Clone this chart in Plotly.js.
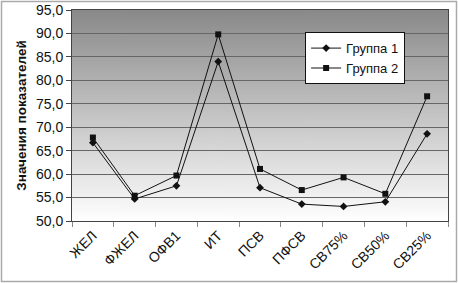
<!DOCTYPE html>
<html><head><meta charset="utf-8">
<script src="https://cdn.plot.ly/plotly-3.0.1.min.js"></script>
<style>html,body{margin:0;padding:0;background:#fff}#chart{width:458px;height:283px}</style>
</head><body><div id="chart"></div>
<script>
var categories = ["ЖЕЛ","ФЖЕЛ","ОФВ1","ИТ","ПСВ","ПФСВ","СВ75%","СВ50%","СВ25%"];
var group1 = [66.7, 54.7, 57.5, 84.0, 57.1, 53.6, 53.1, 54.1, 68.6];
var group2 = [67.8, 55.4, 59.7, 89.8, 61.1, 56.6, 59.3, 55.8, 76.6];
var seriesNames = ["Группа 1","Группа 2"];
var yTitle = "Значения показателей";

var cv = document.createElement('canvas');
cv.width = 4; cv.height = 256;
var ctx = cv.getContext('2d');
var g = ctx.createLinearGradient(0,0,0,256);
g.addColorStop(0,'#898989');
g.addColorStop(1,'#ffffff');
ctx.fillStyle = g; ctx.fillRect(0,0,4,256);
var bg = cv.toDataURL();

var W=458,H=283,L=72,R=10,T=10,B=62;
var pw=W-L-R, ph=H-T-B;

var traces = [
 {x:categories,y:group1,name:seriesNames[0],type:'scatter',mode:'lines+markers',
  line:{color:'#111',width:1},marker:{symbol:'diamond',size:6,color:'#111'}},
 {x:categories,y:group2,name:seriesNames[1],type:'scatter',mode:'lines+markers',
  line:{color:'#111',width:1},marker:{symbol:'square',size:6,color:'#111'}}
];
var layout = {
 width:W,height:H,margin:{l:L,r:R,t:T,b:B},
 paper_bgcolor:'#fff',plot_bgcolor:'rgba(0,0,0,0)',
 separators:', ',
 font:{family:'Liberation Sans, Arial, sans-serif',color:'#111'},
 showlegend:true,
 legend:{x:0.62,y:0.895,xanchor:'left',yanchor:'top',bgcolor:'#fff',bordercolor:'#111',borderwidth:1,
   font:{size:13,color:'#111'},itemwidth:30,tracegroupgap:0},
 xaxis:{type:'category',tickson:'boundaries',ticks:'outside',ticklen:5,tickcolor:'#888',
   showline:true,linecolor:'#444',linewidth:1,mirror:true,showgrid:false,
   tickangle:-45,tickfont:{size:14,color:'#111'},range:[-0.5,8.5]},
 yaxis:{range:[50,95],dtick:5,tick0:50,tickformat:'.1f',ticks:'outside',ticklen:5,tickcolor:'#444',
   showline:true,linecolor:'#444',linewidth:1,mirror:true,gridcolor:'#666',gridwidth:1,
   tickfont:{size:14,color:'#111'},zeroline:false,
   title:{text:yTitle,font:{size:13.5,color:'#111',weight:'bold'},standoff:6}},
 images:[{source:bg,xref:'paper',yref:'paper',x:0,y:1,sizex:1,sizey:1,sizing:'stretch',layer:'below',xanchor:'left',yanchor:'top'}],
 shapes:[{type:'rect',xref:'paper',yref:'paper',x0:(1.5-L)/pw,x1:(W-1.5-L)/pw,
   y0:(H-B-(H-1.5))/ph,y1:(H-B-1.5)/ph,line:{color:'#aaa',width:1.5}}]
};
Plotly.newPlot('chart',traces,layout,{displayModeBar:false,staticPlot:true});
</script></body></html>
